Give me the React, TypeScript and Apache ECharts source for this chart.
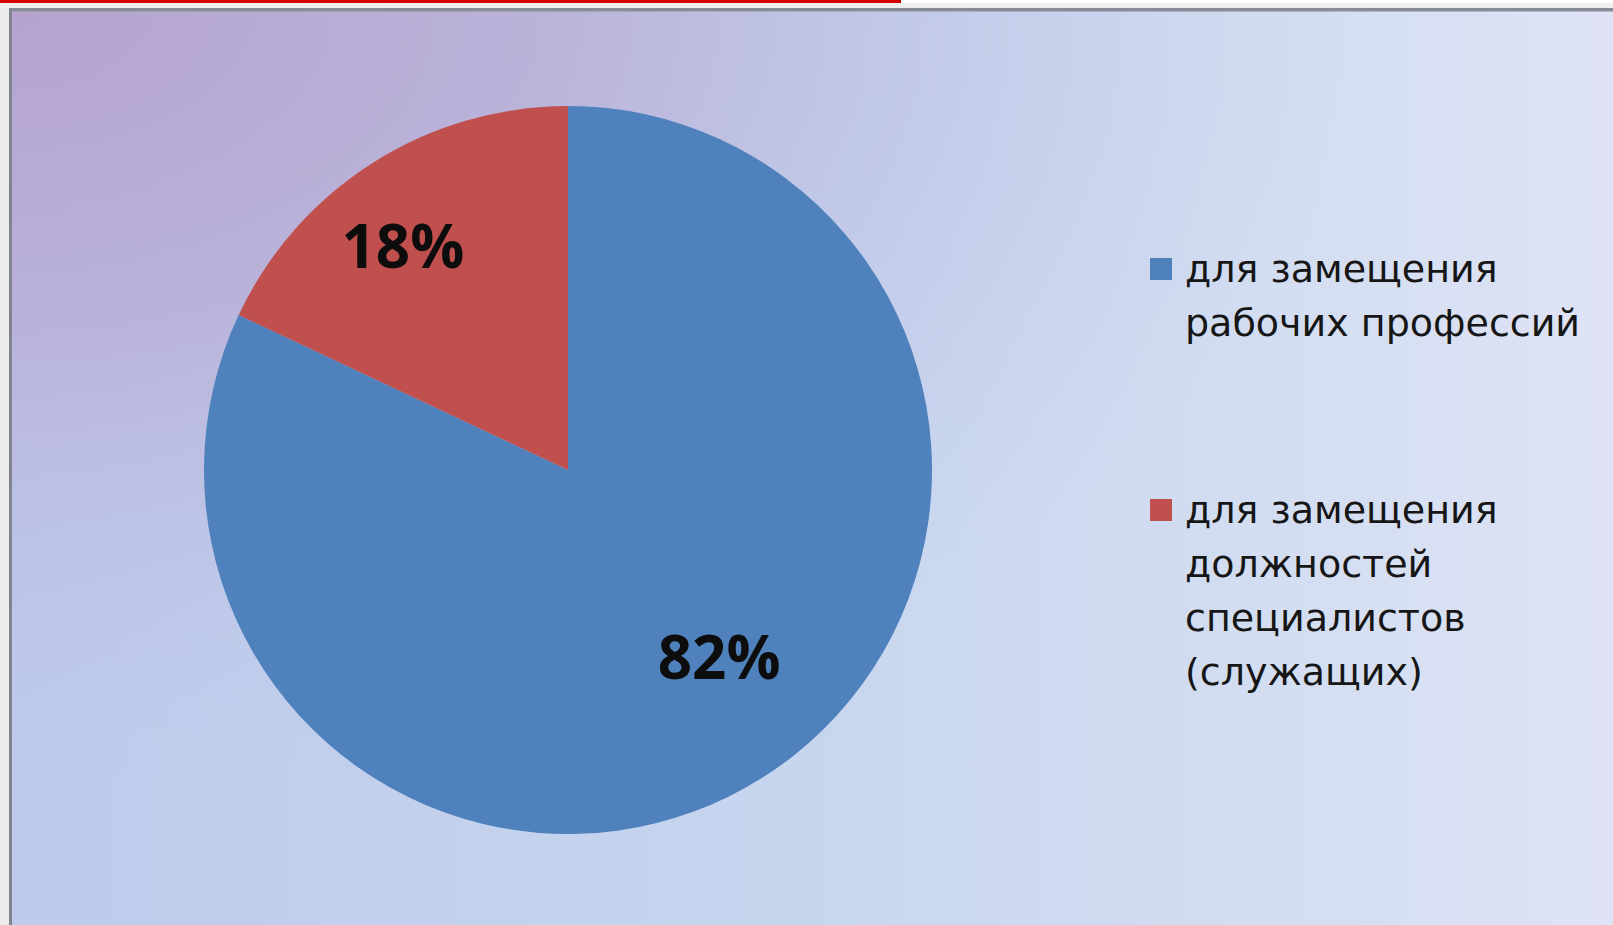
import React, { useEffect, useRef } from "react";
import * as echarts from "echarts";

const categories = [
  "для замещения рабочих профессий",
  "для замещения должностей специалистов (служащих)",
];
const legendLines = [
  ["для замещения", "рабочих профессий"],
  ["для замещения", "должностей", "специалистов", "(служащих)"],
];
const values = [82, 18];
const colors = ["#4f81bd", "#c0504d"];
const labelShift = [
  [52, 30],
  [-66, -69],
];

export default function App() {
  const ref = useRef<HTMLDivElement>(null);

  useEffect(() => {
    if (!ref.current) return;
    const chart = echarts.init(ref.current, null, { renderer: "svg" });
    const W = 1613;
    const H = 925;
    const legendFormatter = (name: string) => {
      const i = categories.indexOf(name);
      const lines = legendLines[i] || [name];
      return new Array(lines.length - 1).fill("").concat(lines).join("\n");
    };
    const legendText = {
      fontFamily: "DejaVu Sans",
      fontSize: 38,
      lineHeight: 54,
      color: "#161616",
      padding: [0, 0, 0, 8],
    };
    chart.setOption({
      animation: false,
      graphic: [
        { type: "rect", z: -20, silent: true, shape: { x: 0, y: 0, width: W, height: H }, style: { fill: "#ffffff" } },
        {
          type: "rect",
          z: -19,
          silent: true,
          shape: { x: 12, y: 11, width: W - 12, height: H - 11 },
          style: {
            fill: new echarts.graphic.LinearGradient(0, 0, 1, 0, [
              { offset: 0, color: "#bdcaea" },
              { offset: 0.5, color: "#c7d6ef" },
              { offset: 0.85, color: "#d6dff2" },
              { offset: 1, color: "#dfe3f5" },
            ]),
          },
        },
        {
          type: "rect",
          z: -18,
          silent: true,
          shape: { x: 12, y: 11, width: W - 12, height: H - 11 },
          style: {
            fill: new echarts.graphic.RadialGradient(0, 0, 0.85, [
              { offset: 0, color: "rgba(181,163,205,1)" },
              { offset: 0.4, color: "rgba(184,172,212,0.8)" },
              { offset: 1, color: "rgba(190,200,235,0)" },
            ]),
          },
        },
        { type: "rect", z: -17, silent: true, shape: { x: 0, y: 0, width: 901, height: 3 }, style: { fill: "#d40000" } },
        { type: "rect", z: -17, silent: true, shape: { x: 0, y: 3, width: W, height: 5 }, style: { fill: "#f0f0f0" } },
        { type: "rect", z: -17, silent: true, shape: { x: 0, y: 8, width: 9, height: H - 8 }, style: { fill: "#ececec" } },
        { type: "rect", z: -16, silent: true, shape: { x: 9, y: 8, width: W - 9, height: 3 }, style: { fill: "#868b95" } },
        { type: "rect", z: -16, silent: true, shape: { x: 9, y: 8, width: 3, height: H - 8 }, style: { fill: "#80848c" } },
        { type: "rect", z: -16, silent: true, shape: { x: 12, y: 11, width: W - 12, height: 1 }, style: { fill: "rgba(150,155,175,0.6)" } },
      ],
      legend: [
        {
          data: [categories[0]],
          orient: "vertical",
          left: 1145,
          top: 183,
          itemWidth: 22,
          itemHeight: 22,
          icon: "rect",
          selectedMode: false,
          formatter: legendFormatter,
          textStyle: legendText,
        },
        {
          data: [categories[1]],
          orient: "vertical",
          left: 1145,
          top: 316,
          itemWidth: 22,
          itemHeight: 22,
          icon: "rect",
          selectedMode: false,
          formatter: legendFormatter,
          textStyle: legendText,
        },
      ],
      series: [
        {
          type: "pie",
          center: [568, 470],
          radius: 364,
          startAngle: 90,
          clockwise: true,
          silent: true,
          color: colors,
          data: categories.map((name, i) => ({ name, value: values[i] })),
          label: {
            show: true,
            position: "inside",
            formatter: "{d}%",
            fontFamily: "Open Sans",
            fontWeight: "bold",
            fontSize: 60,
            color: "#0d0d0d",
          },
          labelLine: { show: false },
          labelLayout: (params: any) => {
            const s = labelShift[params.dataIndex] || [0, 0];
            return { dx: s[0], dy: s[1] };
          },
        },
      ],
    });
    return () => chart.dispose();
  }, []);

  return (
    <div style={{ position: "absolute", left: 0, top: 0, width: 1613, height: 925, overflow: "hidden" }}>
      <div ref={ref} style={{ width: 1613, height: 925 }} />
    </div>
  );
}
